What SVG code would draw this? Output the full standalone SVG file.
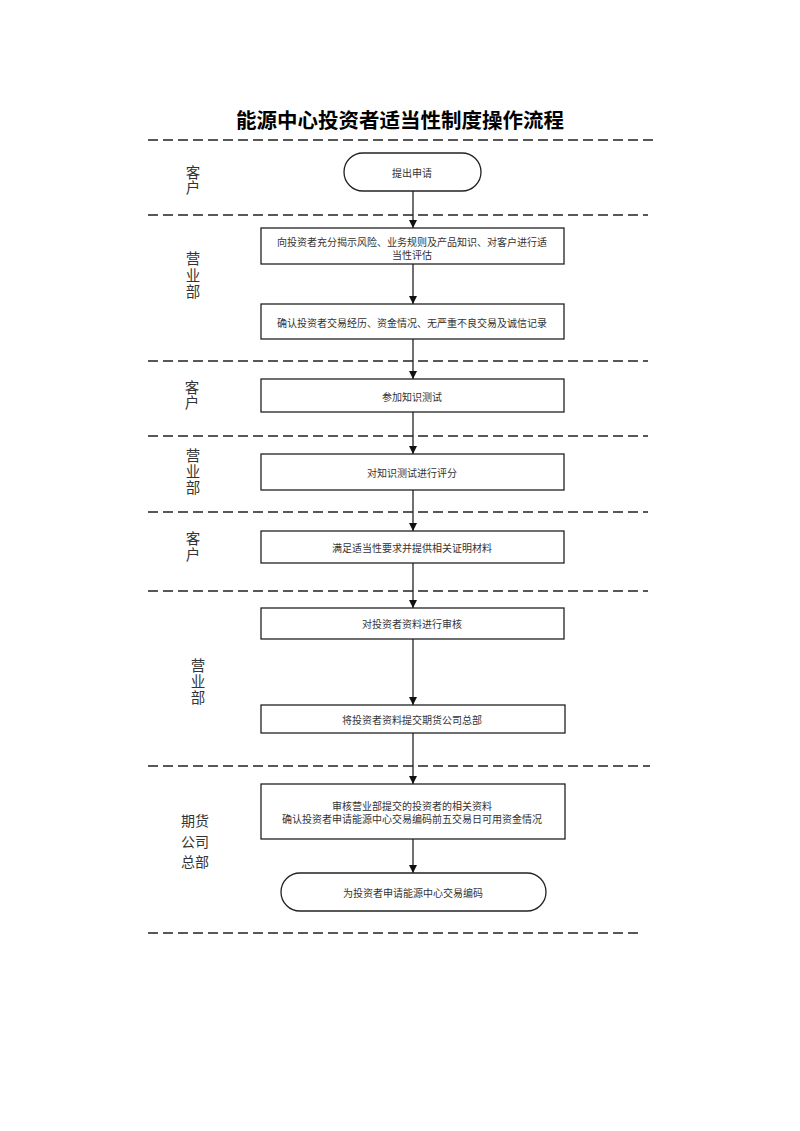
<svg xmlns="http://www.w3.org/2000/svg" width="800" height="1131" viewBox="0 0 800 1131">
<defs>
<marker id="arr" viewBox="0 0 10 10" refX="10" refY="5" markerWidth="8" markerHeight="8" markerUnits="userSpaceOnUse" orient="auto">
<path d="M0,0 L10,5 L0,10 Z" fill="#111"/>
</marker>
<style>
.dash{stroke:#222;stroke-width:1.6;stroke-dasharray:10,5;fill:none}
.box{fill:#fff;stroke:#222;stroke-width:1.3}
.t{font-family:"Noto Sans CJK SC","Liberation Sans",sans-serif;font-size:10px;fill:#333;text-anchor:middle;dominant-baseline:central}
.lane{font-family:"Noto Sans CJK SC","Liberation Sans",sans-serif;font-size:14.5px;fill:#333;text-anchor:middle}
.v{writing-mode:vertical-rl}
.h{font-size:14px;dominant-baseline:central}
.conn{stroke:#222;stroke-width:1.3;fill:none;marker-end:url(#arr)}
</style>
</defs>
<rect width="800" height="1131" fill="#fff"/>
<text x="400" y="119" font-family="'Noto Sans CJK SC',sans-serif" font-size="20.5" font-weight="bold" fill="#000" text-anchor="middle" dominant-baseline="central">能源中心投资者适当性制度操作流程</text>
<g id="lanes">
<line class="dash" x1="148" y1="140" x2="653" y2="140"/>
<line class="dash" x1="148" y1="215" x2="648" y2="215"/>
<line class="dash" x1="148" y1="361" x2="648" y2="361"/>
<line class="dash" x1="148" y1="436" x2="648" y2="436"/>
<line class="dash" x1="148" y1="512" x2="648" y2="512"/>
<line class="dash" x1="148" y1="591" x2="648" y2="591"/>
<line class="dash" x1="148" y1="766" x2="650" y2="766"/>
<line class="dash" x1="148" y1="933" x2="640" y2="933"/>
<text class="lane v" x="193" y="180" letter-spacing="0.5">客户</text>
<text class="lane v" x="193" y="276" letter-spacing="2">营业部</text>
<text class="lane v" x="192" y="395" letter-spacing="0.5">客户</text>
<text class="lane v" x="193" y="472" letter-spacing="1.5">营业部</text>
<text class="lane v" x="193" y="547" letter-spacing="1.5">客户</text>
<text class="lane v" x="198" y="682" letter-spacing="1.5">营业部</text>
<text class="lane h"><tspan x="195" y="820">期货</tspan><tspan x="195" y="840.5">公司</tspan><tspan x="195" y="861">总部</tspan></text>
</g>
<g id="connectors">
<line class="conn" x1="413" y1="191" x2="413" y2="228"/>
<line class="conn" x1="413" y1="264" x2="413" y2="304"/>
<line class="conn" x1="413" y1="339" x2="413" y2="379"/>
<line class="conn" x1="413" y1="412" x2="413" y2="454"/>
<line class="conn" x1="413" y1="490" x2="413" y2="531"/>
<line class="conn" x1="413" y1="563" x2="413" y2="608"/>
<line class="conn" x1="413" y1="639" x2="413" y2="705"/>
<line class="conn" x1="413" y1="733" x2="413" y2="784"/>
<line class="conn" x1="413" y1="839" x2="413" y2="873"/>
</g>
<g id="n1"><rect class="box" x="344" y="153" width="137" height="38" rx="19"/><text class="t" x="412" y="172">提出申请</text></g>
<g id="n2"><rect class="box" x="261" y="228" width="303" height="36"/><text class="t"><tspan x="412" y="241">向投资者充分揭示风险、业务规则及产品知识、对客户进行适</tspan><tspan x="412" y="254">当性评估</tspan></text></g>
<g id="n3"><rect class="box" x="261" y="304" width="303" height="35"/><text class="t" x="412" y="322">确认投资者交易经历、资金情况、无严重不良交易及诚信记录</text></g>
<g id="n4"><rect class="box" x="261" y="379" width="303" height="33"/><text class="t" x="412" y="396">参加知识测试</text></g>
<g id="n5"><rect class="box" x="261" y="454" width="303" height="36"/><text class="t" x="412" y="472">对知识测试进行评分</text></g>
<g id="n6"><rect class="box" x="261" y="531" width="303" height="32"/><text class="t" x="412" y="547">满足适当性要求并提供相关证明材料</text></g>
<g id="n7"><rect class="box" x="261" y="608" width="303" height="31"/><text class="t" x="412" y="623">对投资者资料进行审核</text></g>
<g id="n8"><rect class="box" x="261" y="705" width="304" height="28"/><text class="t" x="412" y="719">将投资者资料提交期货公司总部</text></g>
<g id="n9"><rect class="box" x="261" y="784" width="304" height="55"/><text class="t"><tspan x="412" y="805">审核营业部提交的投资者的相关资料</tspan><tspan x="412" y="818">确认投资者申请能源中心交易编码前五交易日可用资金情况</tspan></text></g>
<g id="n10"><rect class="box" x="281" y="873" width="265" height="38" rx="19"/><text class="t" x="413" y="892">为投资者申请能源中心交易编码</text></g>
</svg>
